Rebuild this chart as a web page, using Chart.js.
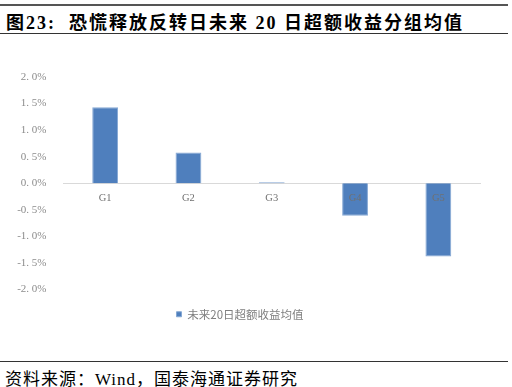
<!DOCTYPE html>
<html>
<head>
<meta charset="utf-8">
<script src="https://cdn.jsdelivr.net/npm/chart.js@4/dist/chart.umd.min.js"></script>
<style>
body{margin:0;width:512px;height:387px;background:#fff;position:relative;overflow:hidden;}
#topline{position:absolute;left:0;top:4px;width:508px;height:2px;background:#555;}
#title{position:absolute;left:6px;top:8px;font-family:"Liberation Serif","Noto Sans CJK SC",serif;font-weight:bold;font-size:18px;letter-spacing:2px;color:#000;white-space:nowrap;}
#titleline{position:absolute;left:0;top:33px;width:508px;height:1px;background:#333;}
#box{position:absolute;left:0;top:40px;width:512px;height:310px;}
#bottomline{position:absolute;left:0;top:361px;width:508px;height:1px;background:#333;}
#source{position:absolute;left:5px;top:365px;font-family:"Liberation Serif","Noto Sans CJK SC",serif;font-size:17px;letter-spacing:1px;color:#000;white-space:nowrap;}
</style>
</head>
<body>
<div id="topline"></div>
<div id="title">图23:&nbsp; 恐慌释放反转日未来 20 日超额收益分组均值</div>
<div id="titleline"></div>
<div id="box"><canvas id="chart" width="512" height="310"></canvas></div>
<div id="bottomline"></div>
<div id="source">资料来源：Wind，国泰海通证券研究</div>

<script>

let groups=["G1","G2","G3","G4","G5"];
let excessReturn=[1.43,0.58,0.02,-0.61,-1.38];
let yTicks=[-2.0,-1.5,-1.0,-0.5,0.0,0.5,1.0,1.5,2.0];
let seriesName="未来20日超额收益均值";

function fmt(v){
let s=v.toFixed(1).replace(".",". ")+"%";
return s;
}

new Chart(document.getElementById("chart"),{

type:"bar",

data:{
labels:groups,
datasets:[{
label:seriesName,
data:excessReturn,
backgroundColor:"#4f7fbd",
borderColor:"#86a8d4",
borderWidth:1,
barPercentage:0.31,
categoryPercentage:1
}]
},

options:{
responsive:false,
animation:false,
layout:{padding:{left:0,right:32,top:37,bottom:20}},
plugins:{
legend:{
position:"bottom",
labels:{
boxWidth:5,
boxHeight:5,
color:"#7f7f7f",
font:{family:"Noto Sans CJK SC",size:11.5},
padding:19
}
},
tooltip:{enabled:false}
},
scales:{
x:{
position:{y:0},
grid:{display:false},
border:{display:true,color:"#d9d9d9"},
ticks:{z:1,color:"#707070",font:{family:"Liberation Serif",size:10.5},padding:1}
},
y:{
min:-2,
max:2,
afterBuildTicks:function(scale){
scale.ticks=yTicks.map(function(v){return {value:v};});
},
afterFit:function(scale){scale.width=63.5;},
grid:{display:false},
border:{display:false},
ticks:{
color:"#8c8c8c",
font:{family:"Liberation Serif",size:11},
padding:9,
callback:function(v){return fmt(v);}
}
}
}
}

});

</script>
</body>
</html>
